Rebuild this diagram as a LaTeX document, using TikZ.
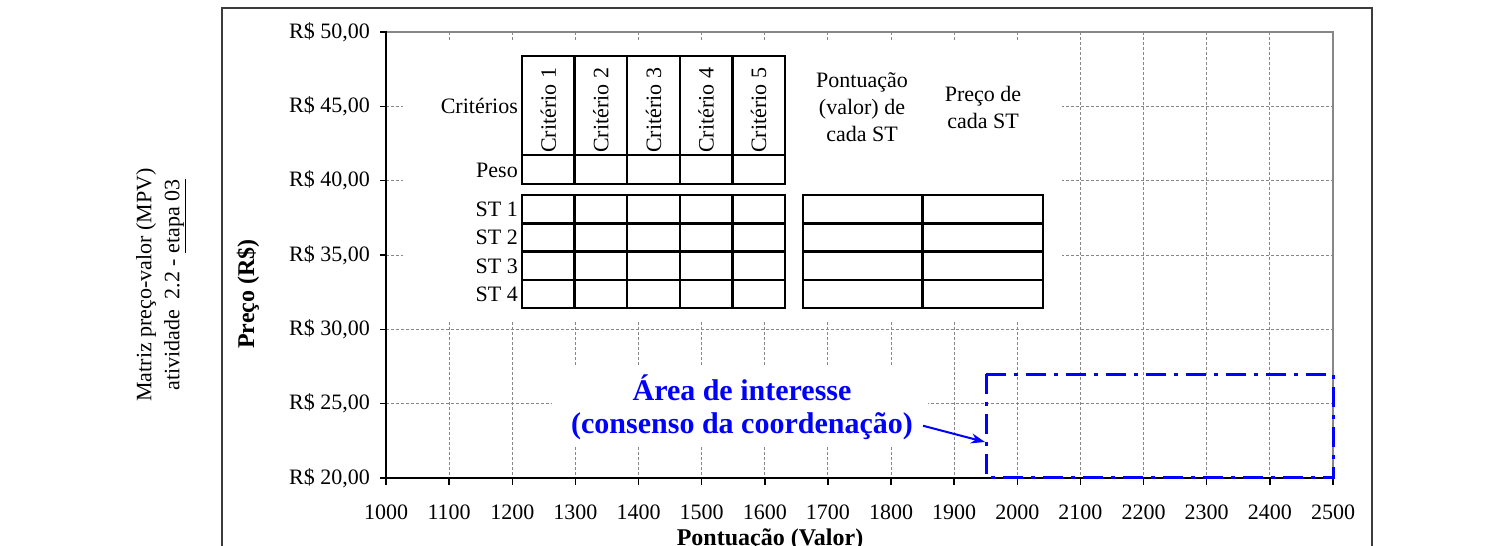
\documentclass[tikz,border=0pt]{standalone}
\usepackage{fontspec}
\setmainfont{Liberation Serif}
\usetikzlibrary{arrows.meta, positioning, calc}
\definecolor{areablue}{RGB}{0, 0, 255}
\definecolor{gridgray}{RGB}{135, 135, 135}
\definecolor{framegray}{RGB}{60, 60, 60}

\begin{document}
\begin{tikzpicture}[x=1pt, y=-1pt,
  txt/.style={font=\fontsize{22}{27}\selectfont, inner sep=0pt},
  boldtxt/.style={font=\fontsize{24}{28}\selectfont\bfseries, inner sep=0pt},
  bluetxt/.style={font=\fontsize{30}{33}\selectfont\bfseries, text=areablue, inner sep=0pt},
  gridline/.style={gridgray, line width=1pt, dash pattern=on 3pt off 2pt},
  cell/.style={draw, line width=2.5pt},
  axisline/.style={line width=2pt, line cap=rect}]
  \clip (0,0) rectangle (1489,546);
  \fill[white] (0,0) rectangle (1489,546);

  % outer frame
  \draw[framegray, line width=2pt] (222,8) rectangle (1372,570);

  % grid
  \foreach \i in {1,...,14}
    \draw[gridline] ({386+63.133*\i},32) -- ({386+63.133*\i},478);
  \foreach \j in {1,...,5}
    \draw[gridline] (386,{478-74.333*\j}) -- (1333,{478-74.333*\j});
  \draw[gridgray, line width=1.5pt] (386,32) -- (1333,32) -- (1333,478);

  % white boxes behind the table and the note
  \fill[white] (403,42) rectangle (1062,322);
  \fill[white] (552,367) rectangle (928,445);

  % axes and ticks
  \draw[axisline] (386,32) -- (386,478) -- (1333,478);
  \foreach \k in {0,...,6} {
    \pgfmathtruncatemacro\v{20+5*\k}
    \draw[line width=1.5pt] (380,{478-74.333*\k}) -- (387,{478-74.333*\k});
    \node[txt, anchor=east] (ylab\k) at (370,{478-74.333*\k}) {R\$ \v,00};
  }
  \foreach \k in {0,...,15} {
    \pgfmathtruncatemacro\v{1000+100*\k}
    \draw[line width=1.5pt] ({386+63.133*\k},477) -- ({386+63.133*\k},485);
    \node[txt] (xlab\k) at ({386+63.133*\k},512) {\v};
  }

  % axis titles
  \node[boldtxt, anchor=base] (xtitle) at (770,545) {Pontuação (Valor)};
  \node[boldtxt, rotate=90] (ytitle) at (248,294) {Preço (R\$)};
  \node[txt, rotate=90, align=center, font=\fontsize{22}{28}\selectfont] (title) at (161,285)
    {Matriz preço-valor (MPV)\\atividade\ \ 2.2 - \underline{etapa 03}};

  % criteria table
  \foreach \c [count=\n] in {0,...,4} {
    \draw[cell] ({522+52.6*\c},56) rectangle ++(52.6,99);
    \draw[cell] ({522+52.6*\c},155) rectangle ++(52.6,29);
    \node[txt, rotate=90, anchor=west] (crit\n) at ({548.3+52.6*\c},153) {Critério \n};
  }
  \node[txt, anchor=east] (criterios) at (518,106) {Critérios};
  \node[txt, anchor=east] (peso) at (518,170) {Peso};

  % ST tables
  \foreach \r [count=\n] in {0,...,3} {
    \foreach \c in {0,...,4}
      \draw[cell] ({522+52.6*\c},{195+28.25*\r}) rectangle ++(52.6,28.25);
    \draw[cell] (803,{195+28.25*\r}) rectangle ++(119.5,28.25);
    \draw[cell] (922.5,{195+28.25*\r}) rectangle ++(120.5,28.25);
    \node[txt, anchor=east] (st\n) at (518,{209.5+28.25*\r}) {ST \n};
  }
  \node[txt, align=center] (pontuacao) at (862,107) {Pontuação\\(valor) de\\cada ST};
  \node[txt, align=center] (preco) at (983,107) {Preço de\\cada ST};

  % area of interest
  \draw[areablue, line width=3pt, dash pattern=on 20pt off 8pt on 4pt off 8pt]
    (986,374) rectangle (1333,477);
  \coordinate (areatip) at (985,442);
  \node[bluetxt, anchor=base] (area1) at (742,400) {Área de interesse};
  \node[bluetxt, anchor=base] (area2) at (742,433) {(consenso da coordenação)};
  \draw[areablue, line width=2pt, -{Stealth[length=14pt, width=10pt]}]
    ([xshift=10pt]area2.east) -- (areatip);
\end{tikzpicture}
\end{document}
